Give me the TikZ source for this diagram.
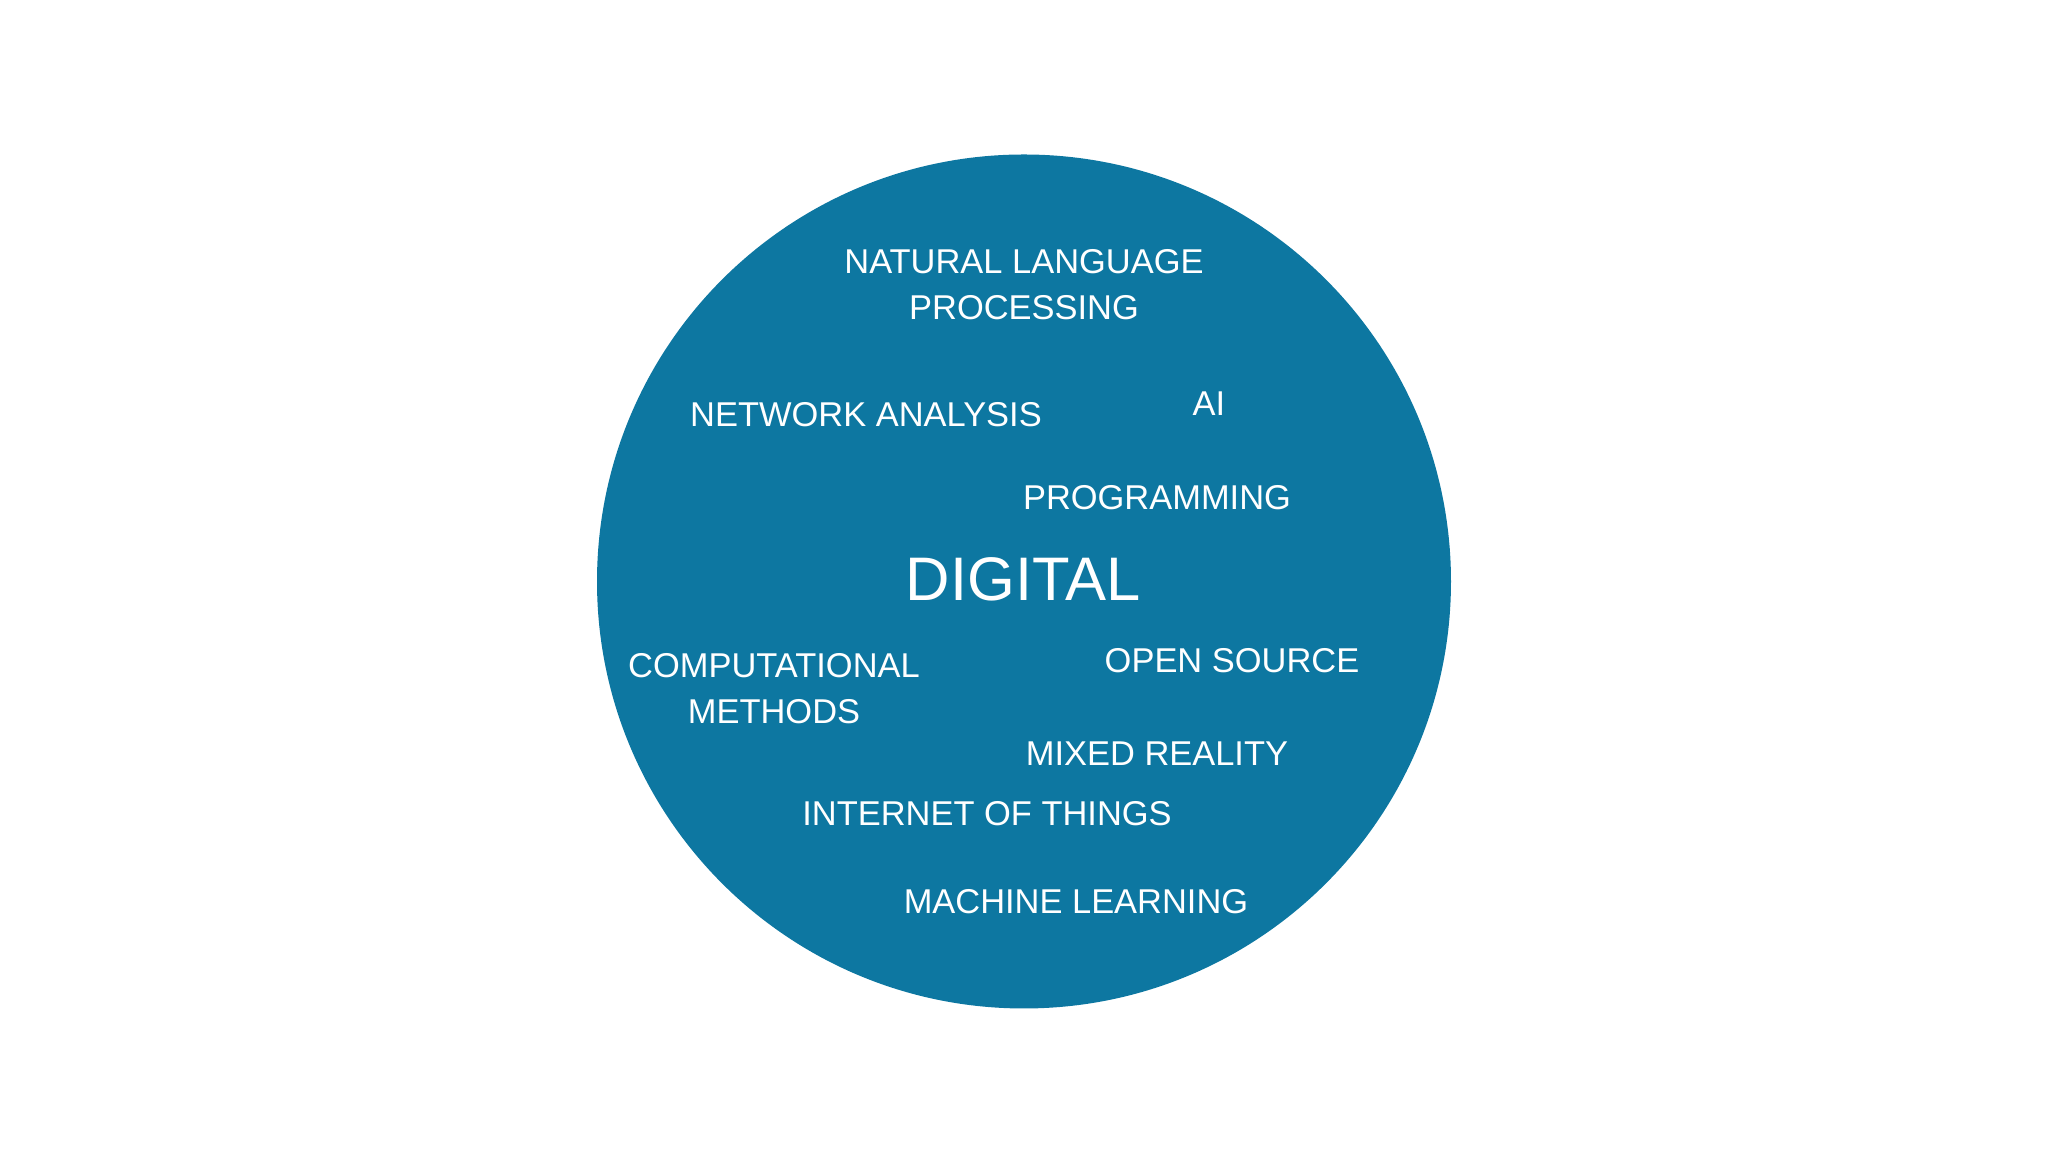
\documentclass[tikz,border=0pt]{standalone}
\usepackage{fontspec}
\setmainfont{Liberation Sans}
\definecolor{digblue}{HTML}{0D77A1}
\begin{document}
\begin{tikzpicture}[main/.style = {circle, fill=digblue, inner sep=0pt}, word/.style = {text=white, font=\fontsize{9.8}{13}\selectfont, align=center}]

    \useasboundingbox (0,0) rectangle (20.48,11.52);
    \node[main, minimum size=8.54cm] (z0) at (10.24,5.705) {};

    \node[word] (nlp) at (10.24,8.67) {NATURAL LANGUAGE\\PROCESSING};
    \node[word] (net) at (8.66,7.37) {NETWORK ANALYSIS};
    \node[word] (ai) at (12.09,7.48) {AI};
    \node[word] (prog) at (11.57,6.54) {PROGRAMMING};
    \node[word, font=\fontsize{17.5}{20}\selectfont] (dig) at (10.23,5.73) {DIGITAL};
    \node[word] (comp) at (7.74,4.63) {COMPUTATIONAL\\METHODS};
    \node[word] (open) at (12.32,4.91) {OPEN SOURCE};
    \node[word] (mix) at (11.57,3.98) {MIXED REALITY};
    \node[word] (iot) at (9.87,3.38) {INTERNET OF THINGS};
    \node[word] (ml) at (10.76,2.50) {MACHINE LEARNING};

\end{tikzpicture}
\end{document}
